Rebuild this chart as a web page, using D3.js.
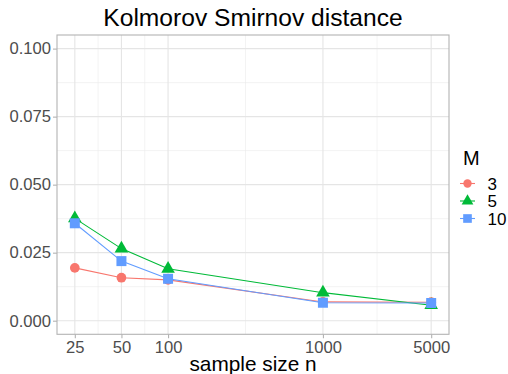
<!DOCTYPE html>
<html><head><meta charset="utf-8">
<script src="https://cdn.jsdelivr.net/npm/d3@7"></script>
<style>body{margin:0;background:#fff}svg{display:block}text{font-family:"Liberation Sans",Arial,Helvetica,sans-serif}</style>
</head><body>
<script>
const sampleSizes = [25, 50, 100, 1000, 5000];
const seriesNames = ["3", "5", "10"];
const valuesM3  = [0.0194, 0.0158, 0.0150, 0.0069, 0.0068];
const valuesM5  = [0.0376, 0.0265, 0.0191, 0.0103, 0.0057];
const valuesM10 = [0.0358, 0.0219, 0.0154, 0.0066, 0.0065];
const yTicks = [0, 0.025, 0.05, 0.075, 0.1];
const yMinor = [0.0125, 0.0375, 0.0625, 0.0875];
const xTicks = [25, 50, 100, 1000, 5000];
const colors = ["#F8766D", "#00BA38", "#619CFF"];
const shapes = [d3.symbolCircle, d3.symbolTriangle, d3.symbolSquare];

const W = 508, H = 374;
const panel = {left: 57, right: 449, top: 35, bottom: 334.3};
const svg = d3.select("body").append("svg").attr("width", W).attr("height", H);

const lx = d3.extent(sampleSizes).map(Math.log10);
const ex = (lx[1]-lx[0])*0.05;
const x = d3.scaleLog().domain([Math.pow(10, lx[0]-ex), Math.pow(10, lx[1]+ex)]).range([panel.left, panel.right]);
const y = d3.scaleLinear().domain([-0.005, 0.105]).range([panel.bottom, panel.top]);

const xMinor = d3.pairs(xTicks).map(([a,b]) => Math.sqrt(a*b));

const grid = svg.append("g");
grid.selectAll(".xm").data(xMinor).join("line")
  .attr("x1", d=>x(d)).attr("x2", d=>x(d)).attr("y1", panel.top).attr("y2", panel.bottom)
  .attr("stroke", "#ebebeb").attr("stroke-width", 0.6);
grid.selectAll(".ym").data(yMinor).join("line")
  .attr("y1", d=>y(d)).attr("y2", d=>y(d)).attr("x1", panel.left).attr("x2", panel.right)
  .attr("stroke", "#ebebeb").attr("stroke-width", 0.6);
grid.selectAll(".xM").data(xTicks).join("line")
  .attr("x1", d=>x(d)).attr("x2", d=>x(d)).attr("y1", panel.top).attr("y2", panel.bottom)
  .attr("stroke", "#e5e5e5").attr("stroke-width", 1.1);
grid.selectAll(".yM").data(yTicks).join("line")
  .attr("y1", d=>y(d)).attr("y2", d=>y(d)).attr("x1", panel.left).attr("x2", panel.right)
  .attr("stroke", "#e5e5e5").attr("stroke-width", 1.1);

const series = [valuesM3, valuesM5, valuesM10].map((vals, i) => ({
  name: seriesNames[i], color: colors[i], shape: shapes[i],
  pts: sampleSizes.map((n, j) => ({n, v: vals[j]}))
}));

const line = d3.line().x(d=>x(d.n)).y(d=>y(d.v));
svg.append("g").selectAll("path").data(series).join("path")
  .attr("d", d=>line(d.pts)).attr("fill", "none").attr("stroke", d=>d.color).attr("stroke-width", 1.1);

const symSize = [74, 80, 100];
const pg = svg.append("g");
series.forEach((s, i) => {
  pg.selectAll(null).data(s.pts).join("path")
    .attr("transform", d => `translate(${x(d.n)},${y(d.v)})`)
    .attr("d", d3.symbol().type(s.shape).size(symSize[i]))
    .attr("fill", s.color);
});

svg.append("rect").attr("x", panel.left).attr("y", panel.top)
  .attr("width", panel.right-panel.left).attr("height", panel.bottom-panel.top)
  .attr("fill", "none").attr("stroke", "#b3b3b3").attr("stroke-width", 1.1);

const yAxis = svg.append("g").attr("transform", `translate(${panel.left},0)`)
  .call(d3.axisLeft(y).tickValues(yTicks).tickFormat(d3.format(".3f")).tickSize(4).tickPadding(2));
const xAxis = svg.append("g").attr("transform", `translate(0,${panel.bottom})`)
  .call(d3.axisBottom(x).tickValues(xTicks).tickFormat(d3.format("d")).tickSize(4).tickPadding(3));
[yAxis, xAxis].forEach(a => {
  a.select(".domain").remove();
  a.selectAll(".tick line").attr("stroke", "#b3b3b3").attr("stroke-width", 1.1);
  a.selectAll(".tick text").attr("fill", "#4d4d4d").style("font-size", "16.6px")
    .style("font-family", '"Liberation Sans",Arial,sans-serif');
});

svg.append("text").attr("x", (panel.left+panel.right)/2).attr("y", 26).attr("text-anchor", "middle")
  .style("font-size", "24.6px").attr("fill", "#000").text("Kolmorov Smirnov distance");
svg.append("text").attr("x", (panel.left+panel.right)/2).attr("y", 370.5).attr("text-anchor", "middle")
  .style("font-size", "20.8px").attr("fill", "#000").text("sample size n");

const lg = svg.append("g");
lg.append("text").attr("x", 463).attr("y", 165).style("font-size", "20px").attr("fill", "#000").text("M");
const keyY = [183.5, 201, 218.5];
series.forEach((s, i) => {
  lg.append("line").attr("x1", 460).attr("x2", 475).attr("y1", keyY[i]).attr("y2", keyY[i])
    .attr("stroke", s.color).attr("stroke-width", 1.1);
  lg.append("path").attr("transform", `translate(467.5,${keyY[i]})`)
    .attr("d", d3.symbol().type(s.shape).size(symSize[i]*0.75)).attr("fill", s.color);
  lg.append("text").attr("x", 487.5).attr("y", keyY[i]).attr("dy", "0.36em")
    .style("font-size", "17px").attr("fill", "#000").text(s.name);
});
</script>
</body></html>
